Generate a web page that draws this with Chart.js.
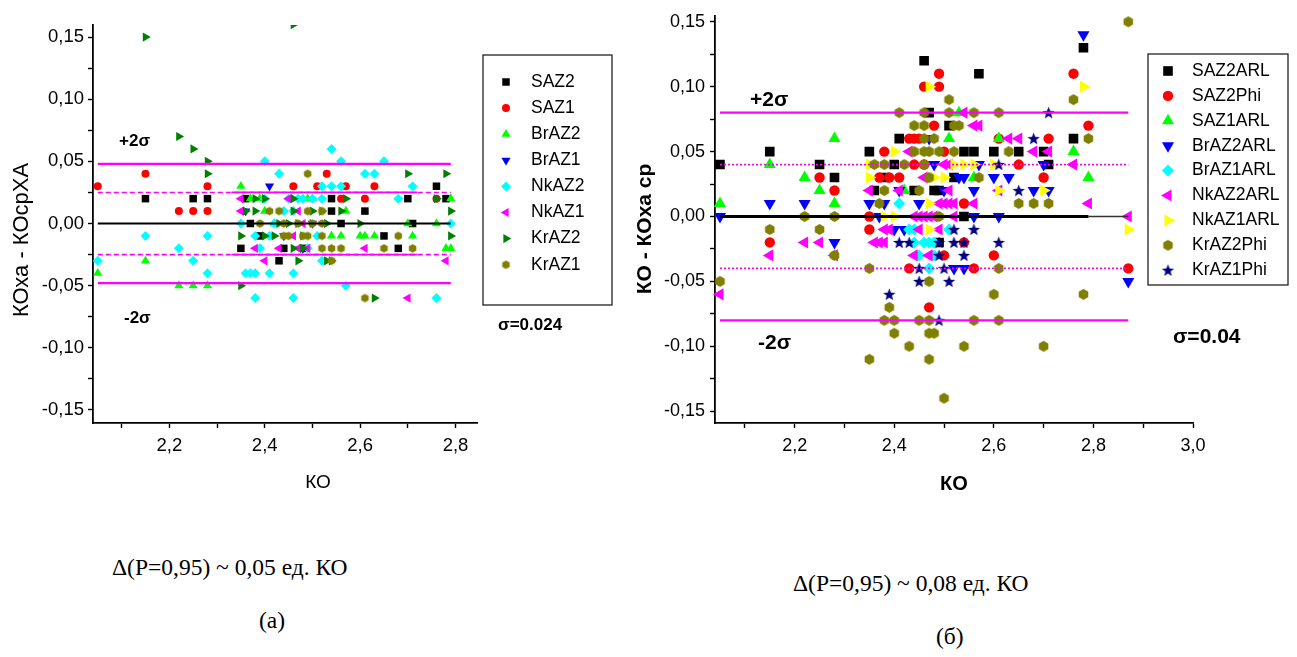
<!DOCTYPE html>
<html><head><meta charset="utf-8">
<script src="https://cdn.jsdelivr.net/npm/chart.js@4/dist/chart.umd.min.js"></script>
<style>
html,body{margin:0;padding:0;background:#fff;width:1297px;height:657px;overflow:hidden;position:relative}
#cA{position:absolute;left:0;top:0}
#cB{position:absolute;left:620px;top:0}
.cap{position:absolute;font-family:"Liberation Serif","Times New Roman",serif;font-size:23.5px;color:#000;white-space:nowrap;line-height:1}
</style></head><body>
<canvas id="cA" width="620" height="520"></canvas>
<canvas id="cB" width="677" height="520"></canvas>
<div class="cap" style="left:112px;top:556px">Δ(P=0,95) ~ 0,05 ед. КО</div>
<div class="cap" style="left:259px;top:609px">(а)</div>
<div class="cap" style="left:793px;top:572px">Δ(P=0,95) ~ 0,08 ед. КО</div>
<div class="cap" style="left:936px;top:625px">(б)</div>
<script>
// ---------- (а) left chart data ----------
const SAZ2 = [[2.15,0.02],[2.25,0.02],[2.28,0.02],[2.36,0.02],[2.37,0],[2.39,-0.01],[2.35,-0.02],[2.43,-0.03],[2.44,-0.02],[2.48,-0.02],[2.54,0.02],[2.54,0.01],[2.56,0],[2.61,0.01],[2.65,-0.01],[2.68,-0.02],[2.70,0.02],[2.71,0],[2.76,0.03],[2.78,0.02]];
const SAZ1 = [[2.05,0.03],[2.15,0.04],[2.22,0.01],[2.25,0.01],[2.28,0.01],[2.28,0.03],[2.46,0.03],[2.51,0.03],[2.53,0.04],[2.57,0.03],[2.63,0.03],[2.56,0.02],[2.61,0.02],[2.76,0.02]];
const BrAZ2 = [[2.05,-0.04],[2.15,-0.03],[2.22,-0.05],[2.25,-0.05],[2.28,-0.05],[2.35,0.03],[2.37,0.02],[2.39,0.02],[2.40,0.01],[2.49,0.02],[2.57,0.01],[2.54,-0.01],[2.56,-0.01],[2.60,-0.01],[2.61,-0.01],[2.63,-0.01],[2.70,0],[2.71,-0.01],[2.76,0],[2.79,0.02],[2.78,-0.02],[2.79,-0.02],[2.42,0],[2.50,0.02]];
const BrAZ1 = [[2.41,0.03],[2.44,-0.01],[2.36,0.01],[2.48,-0.02],[2.50,0]];
const NkAZ2 = [[2.05,-0.03],[2.15,-0.01],[2.22,-0.02],[2.25,-0.03],[2.28,-0.01],[2.28,-0.04],[2.35,0],[2.36,-0.04],[2.37,-0.04],[2.38,-0.04],[2.38,-0.01],[2.38,-0.06],[2.39,-0.02],[2.40,0.05],[2.40,0.02],[2.41,-0.01],[2.41,-0.04],[2.43,0.04],[2.44,0.01],[2.45,0.02],[2.46,0.01],[2.46,-0.04],[2.46,-0.06],[2.47,0.02],[2.48,0.02],[2.50,0.02],[2.51,-0.01],[2.52,0.02],[2.52,0.03],[2.52,-0.03],[2.54,0.03],[2.54,0.06],[2.56,0.03],[2.56,0.05],[2.57,-0.05],[2.61,0.04],[2.63,0.04],[2.65,0.05],[2.68,0.02],[2.71,0.03],[2.76,-0.06],[2.79,0],[2.42,0],[2.49,-0.02]];
const NkAZ1 = [[2.35,0.02],[2.35,0.01],[2.38,-0.02],[2.40,-0.03],[2.43,-0.02],[2.46,-0.01],[2.47,-0.02],[2.49,-0.02],[2.61,-0.02],[2.70,-0.06],[2.78,-0.03],[2.45,0.02],[2.47,0.01],[2.48,0]];
const KrAZ2 = [[2.15,0.15],[2.46,0.16],[2.22,0.07],[2.25,0.06],[2.28,0.05],[2.28,0.04],[2.35,-0.01],[2.35,-0.05],[2.36,0.01],[2.38,0.01],[2.38,0.02],[2.40,0.02],[2.40,-0.01],[2.42,-0.01],[2.43,0],[2.45,0],[2.46,0.02],[2.46,0.01],[2.46,-0.02],[2.47,0],[2.47,-0.03],[2.48,-0.01],[2.48,-0.02],[2.50,0.01],[2.50,0],[2.52,0.01],[2.53,0],[2.53,-0.03],[2.54,-0.03],[2.56,0.01],[2.57,0.02],[2.60,0],[2.63,-0.06],[2.70,0.04],[2.76,0.02],[2.78,0.04],[2.79,0.01],[2.79,-0.01]];
const KrAZ1 = [[2.49,0.04],[2.41,0.01],[2.43,0.01],[2.49,0.01],[2.52,0.01],[2.39,0],[2.44,0],[2.47,0],[2.50,0],[2.52,0],[2.44,-0.01],[2.45,-0.01],[2.48,-0.01],[2.49,-0.01],[2.52,-0.01],[2.68,-0.01],[2.52,-0.02],[2.54,-0.02],[2.56,-0.02],[2.65,-0.02],[2.71,-0.02],[2.54,-0.03],[2.61,-0.06]];
const leftNames = ['SAZ2','SAZ1','BrAZ2','BrAZ1','NkAZ2','NkAZ1','KrAZ2','KrAZ1'];
const leftSeries = [SAZ2,SAZ1,BrAZ2,BrAZ1,NkAZ2,NkAZ1,KrAZ2,KrAZ1];
const leftLineX = [2.05, 2.79];
const leftSigma2 = [0.048, -0.048];
const leftSigma1 = [0.025, -0.025];
const leftSolidX = [2.33, 2.72];
const leftXTicks = [2.1,2.2,2.3,2.4,2.5,2.6,2.7,2.8];
const leftXLabels = [2.2,2.4,2.6,2.8];
const leftYTicks = [-0.15,-0.125,-0.1,-0.075,-0.05,-0.025,0,0.025,0.05,0.075,0.1,0.125,0.15];
const leftYLabels = [-0.15,-0.1,-0.05,0,0.05,0.1,0.15];

// ---------- (б) right chart data ----------
const SAZ2ARL = [[2.05,0.04],[2.15,0.05],[2.25,0.04],[2.28,0.03],[2.35,0.05],[2.36,0.02],[2.38,0.03],[2.40,0.04],[2.41,0.06],[2.44,0.02],[2.46,0.12],[2.47,0.08],[2.48,0.02],[2.49,0.02],[2.51,0.07],[2.52,0.03],[2.54,0.05],[2.54,0],[2.56,0.05],[2.57,0.11],[2.60,0.05],[2.65,0.05],[2.70,0.05],[2.71,0.04],[2.76,0.06],[2.78,0.13],[2.49,-0.02]];
const SAZ2Phi = [[2.15,-0.02],[2.25,0.03],[2.28,0.02],[2.35,0],[2.35,-0.01],[2.38,0.05],[2.37,0.03],[2.39,0.03],[2.41,0.03],[2.43,0.06],[2.44,0.06],[2.45,0.06],[2.44,0.04],[2.46,0.10],[2.48,0.07],[2.49,0.11],[2.49,0.10],[2.50,0.05],[2.54,0.01],[2.43,-0.04],[2.47,-0.07],[2.50,-0.03],[2.54,-0.02],[2.56,-0.04],[2.60,-0.03],[2.61,0.06],[2.65,0.04],[2.70,0.03],[2.71,0.06],[2.76,0.11],[2.79,0.07],[2.87,-0.04],[2.46,0.04]];
const SAZ1ARL = [[2.05,0.01],[2.15,0.04],[2.22,0.03],[2.25,0.02],[2.28,0.06],[2.28,0.01],[2.42,0.02],[2.51,0.06],[2.53,0.08],[2.56,0.03],[2.76,0.05],[2.79,0.03],[2.61,0.06]];
const BrAZ2ARL = [[2.05,0],[2.15,0.01],[2.22,0.01],[2.28,-0.02],[2.35,0.01],[2.37,0],[2.38,0.01],[2.40,-0.01],[2.42,-0.01],[2.45,0.01],[2.48,0.04],[2.47,0.06],[2.50,0.02],[2.53,0.03],[2.54,0.03],[2.52,-0.04],[2.54,-0.04],[2.56,0.02],[2.56,0],[2.57,0.04],[2.60,0.03],[2.61,0],[2.63,0.03],[2.68,0.02],[2.70,0.04],[2.71,0.02],[2.78,0.14],[2.87,-0.05],[2.41,0.02]];
const BrAZ1ARL = [[2.41,0.01],[2.43,-0.01],[2.44,-0.02],[2.46,-0.02],[2.47,-0.02],[2.48,-0.02],[2.45,-0.03],[2.48,-0.03],[2.47,-0.04],[2.51,-0.01],[2.44,-0.01]];
const NkAZ2ARL = [[2.05,-0.06],[2.15,-0.03],[2.22,-0.02],[2.25,-0.02],[2.28,-0.03],[2.35,0.02],[2.36,-0.02],[2.37,-0.02],[2.38,-0.02],[2.38,-0.01],[2.39,-0.01],[2.41,0.02],[2.43,0.05],[2.44,0],[2.45,0],[2.46,0],[2.47,0],[2.48,0],[2.46,0.03],[2.49,0.01],[2.50,0.01],[2.51,0.01],[2.52,0.01],[2.50,0.04],[2.51,0.04],[2.51,0.02],[2.52,0],[2.44,-0.03],[2.47,-0.03],[2.45,-0.01],[2.49,-0.01],[2.54,0.08],[2.56,0.07],[2.57,0.07],[2.56,0.01],[2.63,0.06],[2.65,0.06],[2.68,0.05],[2.71,0.05],[2.76,0.04],[2.61,0.02],[2.79,0.01],[2.87,0]];
const NkAZ1ARL = [[2.35,0.04],[2.35,0.03],[2.38,0],[2.40,0.05],[2.40,0],[2.47,0.10],[2.47,0.01],[2.47,-0.01],[2.48,0.03],[2.50,0.03],[2.52,0.04],[2.54,0.04],[2.56,0.04],[2.60,0.04],[2.61,0.02],[2.70,0.02],[2.78,0.10],[2.87,-0.01]];
const KrAZ2Phi = [[2.05,-0.05],[2.15,-0.01],[2.22,0],[2.25,-0.01],[2.28,0],[2.28,-0.03],[2.35,-0.04],[2.35,-0.11],[2.36,0.04],[2.37,0.01],[2.38,0.04],[2.38,0.02],[2.38,-0.08],[2.39,-0.07],[2.40,-0.08],[2.40,-0.09],[2.41,0.08],[2.42,0.04],[2.43,-0.10],[2.44,0.07],[2.44,0.05],[2.45,0.02],[2.45,-0.08],[2.46,0.08],[2.46,0.07],[2.46,0.06],[2.46,0.05],[2.46,0.04],[2.47,0.05],[2.47,0.03],[2.47,-0.05],[2.47,-0.08],[2.47,-0.09],[2.47,-0.11],[2.48,0.06],[2.48,-0.09],[2.49,0.05],[2.49,0],[2.50,-0.14],[2.51,0.09],[2.51,0.08],[2.52,0.07],[2.53,0.07],[2.52,0.05],[2.54,-0.10],[2.56,0.08],[2.56,-0.08],[2.57,0.03],[2.60,-0.06],[2.61,0.08],[2.61,-0.04],[2.61,-0.08],[2.63,0.05],[2.65,0.01],[2.68,0.01],[2.71,0.01],[2.70,-0.10],[2.76,0.09],[2.78,-0.06],[2.79,0.06],[2.87,0.15]];
const KrAZ1Phi = [[2.39,-0.06],[2.41,-0.02],[2.43,-0.02],[2.45,-0.04],[2.45,-0.05],[2.49,-0.02],[2.49,-0.03],[2.49,-0.08],[2.50,-0.04],[2.51,-0.05],[2.52,-0.01],[2.52,-0.02],[2.54,-0.02],[2.54,-0.03],[2.56,-0.01],[2.61,-0.02],[2.61,0.04],[2.65,0.02],[2.68,0.06],[2.71,0.08]];
const rightNames = ['SAZ2ARL','SAZ2Phi','SAZ1ARL','BrAZ2ARL','BrAZ1ARL','NkAZ2ARL','NkAZ1ARL','KrAZ2Phi','KrAZ1Phi'];
const rightSeries = [SAZ2ARL,SAZ2Phi,SAZ1ARL,BrAZ2ARL,BrAZ1ARL,NkAZ2ARL,NkAZ1ARL,KrAZ2Phi,KrAZ1Phi];
const rightLineX = [2.05, 2.87];
const rightZeroX = [2.05, 2.79];
const rightZeroTailX = [2.79, 2.87];
const rightSigma2 = [0.08, -0.08];
const rightSigma1 = [0.04, -0.04];
const rightXTicks = [2.1,2.2,2.3,2.4,2.5,2.6,2.7,2.8,2.9,3.0];
const rightXLabels = [2.2,2.4,2.6,2.8,3.0];
const rightYTicks = [-0.15,-0.125,-0.1,-0.075,-0.05,-0.025,0,0.025,0.05,0.075,0.1,0.125,0.15];
const rightYLabels = [-0.15,-0.1,-0.05,0,0.05,0.1,0.15];

// ---------- helpers ----------
const FONT = '"Liberation Sans", Arial, sans-serif';
function shapeCanvas(kind, color, size){
  const c = document.createElement('canvas');
  const s = Math.ceil(size) + 2;
  c.width = s; c.height = s;
  const g = c.getContext('2d');
  g.fillStyle = color;
  const cx = s/2, cy = s/2, R = size/2;
  g.beginPath();
  if (kind === 'hex') {
    for (let i=0;i<6;i++){ const a = -Math.PI/2 + i*Math.PI/3; const px = cx+R*Math.cos(a), py = cy+R*Math.sin(a); i?g.lineTo(px,py):g.moveTo(px,py); }
  } else {
    for (let i=0;i<10;i++){ const r = i%2 ? R*0.42 : R; const a = -Math.PI/2 + i*Math.PI/5; const px = cx+r*Math.cos(a), py = cy+r*Math.sin(a)+R*0.08; i?g.lineTo(px,py):g.moveTo(px,py); }
  }
  g.closePath(); g.fill();
  return c;
}
const sameVal = (a,b)=>Math.abs(a-b)<1e-9;
const toPts = arr => arr.map(p=>({x:p[0], y:p[1]}));
function lineDs(xs, y, color, width, dash){
  return {type:'scatter', data:[{x:xs[0],y:y},{x:xs[1],y:y}], showLine:true, borderColor:color, borderWidth:width, borderDash:dash||[], pointRadius:0, backgroundColor:color, order:-10, clip:0, inLegend:false};
}

const annot = {
  id:'annot',
  afterDraw(chart, args, o){
    const ctx = chart.ctx;
    ctx.save();
    const L = o.legend;
    ctx.fillStyle = '#fff';
    ctx.fillRect(L.x, L.y, L.w, L.h);
    ctx.strokeStyle = '#222'; ctx.lineWidth = 1.3;
    ctx.strokeRect(L.x, L.y, L.w, L.h);
    ctx.font = L.font; ctx.textBaseline = 'middle'; ctx.textAlign = 'left';
    let i = 0;
    chart.data.datasets.forEach(ds=>{
      if (!ds.inLegend) return;
      const y = L.firstY + i*L.step;
      ctx.fillStyle = ds.backgroundColor;
      Chart.helpers.drawPoint(ctx, {pointStyle: ds.pointStyle, radius: ds.pointRadius, rotation: ds.pointRotation||0, borderWidth:0}, L.markerX, y);
      ctx.fillStyle = '#000';
      ctx.fillText(ds.label, L.textX, y);
      i++;
    });
    o.texts.forEach(t=>{
      ctx.save();
      ctx.font = t.font; ctx.fillStyle = '#000';
      ctx.textAlign = t.align || 'left'; ctx.textBaseline = 'middle';
      ctx.translate(t.x, t.y);
      if (t.rot) ctx.rotate(t.rot);
      ctx.fillText(t.text, 0, 0);
      ctx.restore();
    });
    ctx.restore();
  }
};

function axisCfg(min, max, tickVals, labelVals, digits, fontSize, width, isX, boxSize, pad){
  return {
    type:'linear', min:min, max:max,
    afterBuildTicks: s => { s.ticks = tickVals.map(v=>({value:v})); },
    afterFit: s => { if (isX) s.height = boxSize; else s.width = boxSize; },
    ticks:{ autoSkip:false, maxRotation:0, minRotation:0, color:'#000', padding:pad,
      font:{family:FONT, size:fontSize},
      callback: v => labelVals.some(l=>sameVal(l,v)) ? v.toFixed(digits).replace('.', ',') : '' },
    grid:{ drawOnChartArea:false, drawTicks:true, tickLength:5, tickColor:'#000', tickWidth:1.4 },
    border:{ display:true, color:'#000', width:width },
    title:{ display:false }
  };
}

// ---------- left chart ----------
const leftStyles = [
  {color:'#000000', style:'rect', r:5.3, rot:0},
  {color:'#FF0000', style:'circle', r:4, rot:0},
  {color:'#00FF00', style:'triangle', r:5.3, rot:0},
  {color:'#0000FF', style:'triangle', r:5.3, rot:180},
  {color:'#00FFFF', style:'rectRot', r:5, rot:0},
  {color:'#FF00FF', style:'triangle', r:5.3, rot:270},
  {color:'#008000', style:'triangle', r:5.3, rot:90},
  {color:'#808000', style:shapeCanvas('hex','#808000',8.6), r:4.5, rot:0}
];
const leftDatasets = leftSeries.map((s,i)=>({
  type:'scatter', label:leftNames[i], data:toPts(s),
  backgroundColor:leftStyles[i].color, borderColor:leftStyles[i].color,
  pointStyle:leftStyles[i].style, pointRadius:leftStyles[i].r, pointRotation:leftStyles[i].rot,
  pointBorderWidth:0, order:leftSeries.length-i, inLegend:true,
  clip:{left:5, top:0, right:6, bottom:0}
}));
leftSigma1.forEach(y=>{ leftDatasets.push(lineDs(leftLineX, y, '#FF00FF', 1.6, [5,3])); leftDatasets.push(lineDs(leftSolidX, y, '#FF00FF', 1.8)); });
leftSigma2.forEach(y=>leftDatasets.push(lineDs(leftLineX, y, '#FF00FF', 2.2)));
leftDatasets.push(lineDs(leftLineX, 0, '#000000', 2.2));

new Chart(document.getElementById('cA'), {
  type:'scatter',
  data:{datasets:leftDatasets},
  options:{
    responsive:false, animation:false, events:[],
    layout:{padding:{left:0, top:25, right:143, bottom:0}},
    plugins:{ legend:{display:false}, tooltip:{enabled:false},
      annot:{
        legend:{x:483, y:55, w:129, h:250, markerX:506, textX:531, firstY:82, step:26.1, font:'17.5px '+FONT},
        texts:[
          {text:'+2σ', x:119, y:141, font:'bold 17px '+FONT},
          {text:'-2σ', x:124, y:318, font:'bold 17px '+FONT},
          {text:'σ=0.024', x:498, y:325, font:'bold 17px '+FONT},
          {text:'КО', x:318, y:483, font:'19px '+FONT, align:'center'},
          {text:'КОха - КОсрХА', x:22, y:240, font:'22px '+FONT, align:'center', rot:-Math.PI/2}
        ]
      }
    },
    scales:{
      x: axisCfg(2.04, 2.845, leftXTicks, leftXLabels, 1, 18.5, 1.8, true, 97, 7),
      y: axisCfg(-0.1605, 0.1597, leftYTicks, leftYLabels, 2, 18.5, 1.8, false, 93, 4)
    }
  },
  plugins:[annot]
});

// ---------- right chart ----------
const rightStyles = [
  {color:'#000000', style:'rect', r:6.8, rot:0},
  {color:'#FF0000', style:'circle', r:5.2, rot:0},
  {color:'#00FF00', style:'triangle', r:7, rot:0},
  {color:'#0000FF', style:'triangle', r:7, rot:180},
  {color:'#00FFFF', style:'rectRot', r:6, rot:0},
  {color:'#FF00FF', style:'triangle', r:7, rot:270},
  {color:'#FFFF00', style:'triangle', r:7, rot:90},
  {color:'#808000', style:shapeCanvas('hex','#808000',11), r:5.5, rot:0},
  {color:'#000080', style:shapeCanvas('star','#000080',13), r:6, rot:0}
];
const rightDatasets = rightSeries.map((s,i)=>({
  type:'scatter', label:rightNames[i], data:toPts(s),
  backgroundColor:rightStyles[i].color, borderColor:rightStyles[i].color,
  pointStyle:rightStyles[i].style, pointRadius:rightStyles[i].r, pointRotation:rightStyles[i].rot,
  pointBorderWidth:0, order:rightSeries.length-i, inLegend:true,
  clip:{left:7, top:0, right:8, bottom:0}
}));
rightSigma1.forEach(y=>rightDatasets.push(lineDs(rightLineX, y, '#FF00FF', 1.8, [2,2])));
rightSigma2.forEach(y=>rightDatasets.push(lineDs(rightLineX, y, '#FF00FF', 2.2)));
rightDatasets.push(lineDs(rightZeroX, 0, '#000000', 3));
rightDatasets.push(lineDs(rightZeroTailX, 0, '#333333', 1.4));

new Chart(document.getElementById('cB'), {
  type:'scatter',
  data:{datasets:rightDatasets},
  options:{
    responsive:false, animation:false, events:[],
    layout:{padding:{left:0, top:10, right:104, bottom:0}},
    plugins:{ legend:{display:false}, tooltip:{enabled:false},
      annot:{
        legend:{x:528, y:54, w:140, h:231, markerX:548, textX:572, firstY:71, step:24.9, font:'17.5px '+FONT},
        texts:[
          {text:'+2σ', x:130, y:100, font:'bold 21px '+FONT},
          {text:'-2σ', x:138, y:343, font:'bold 21px '+FONT},
          {text:'σ=0.04', x:553, y:337, font:'bold 21px '+FONT},
          {text:'КО', x:334, y:484, font:'bold 20px '+FONT, align:'center'},
          {text:'КО - КОха ср', x:25, y:229, font:'bold 21px '+FONT, align:'center', rot:-Math.PI/2}
        ]
      }
    },
    scales:{
      x: axisCfg(2.04, 3.0, rightXTicks, rightXLabels, 1, 18, 1.8, true, 97, 7),
      y: axisCfg(-0.1591, 0.1546, rightYTicks, rightYLabels, 2, 18, 1.8, false, 95, 5)
    }
  },
  plugins:[annot]
});
</script>
</body></html>
